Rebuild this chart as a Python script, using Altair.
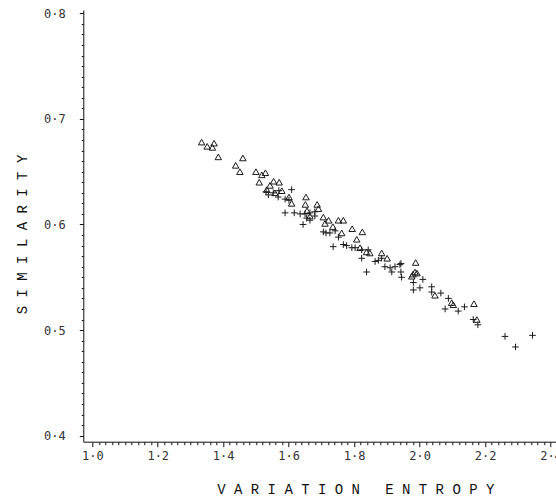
import altair as alt
import pandas as pd

# Series A (open triangles)
tri_x = [1.334, 1.351, 1.367, 1.372, 1.385, 1.460, 1.438, 1.451, 1.500, 1.518,
         1.529, 1.510, 1.554, 1.571, 1.543, 1.533, 1.579, 1.558, 1.601, 1.609,
         1.653, 1.651, 1.656, 1.687, 1.691, 1.665, 1.706, 1.722, 1.711, 1.752,
         1.767, 1.735, 1.762, 1.794, 1.825, 1.808, 1.818, 1.838, 1.848, 1.884,
         1.901, 1.988, 1.986, 1.992, 1.980, 1.976, 2.047, 2.098, 2.103, 2.166,
         2.175]
tri_y = [0.678, 0.674, 0.673, 0.677, 0.664, 0.663, 0.656, 0.650, 0.650, 0.647,
         0.649, 0.640, 0.641, 0.640, 0.637, 0.633, 0.632, 0.630, 0.626, 0.620,
         0.626, 0.619, 0.613, 0.619, 0.615, 0.608, 0.607, 0.604, 0.601, 0.604,
         0.604, 0.598, 0.592, 0.596, 0.593, 0.586, 0.578, 0.574, 0.573, 0.573,
         0.568, 0.564, 0.555, 0.554, 0.553, 0.551, 0.533, 0.526, 0.524, 0.525,
         0.510]

# Series B (plus signs)
plus_x = [1.531, 1.538, 1.553, 1.570, 1.609, 1.568, 1.589, 1.601, 1.589, 1.617,
          1.635, 1.650, 1.655, 1.665, 1.680, 1.680, 1.644, 1.665, 1.706, 1.714,
          1.726, 1.742, 1.752, 1.736, 1.767, 1.777, 1.793, 1.803, 1.823, 1.843,
          1.823, 1.864, 1.874, 1.884, 1.894, 1.910, 1.915, 1.925, 1.940, 1.838,
          1.945, 1.943, 1.943, 1.981, 1.981, 2.001, 2.010, 2.037, 2.037, 2.065,
          2.088, 2.078, 2.118, 2.137, 2.164, 2.178, 2.261, 2.293, 2.345]
plus_y = [0.631, 0.628, 0.630, 0.632, 0.633, 0.626, 0.624, 0.623, 0.611, 0.611,
          0.610, 0.610, 0.606, 0.611, 0.612, 0.608, 0.600, 0.604, 0.593, 0.592,
          0.592, 0.594, 0.588, 0.579, 0.581, 0.580, 0.578, 0.578, 0.576, 0.576,
          0.568, 0.565, 0.566, 0.568, 0.560, 0.559, 0.555, 0.560, 0.562, 0.555,
          0.550, 0.563, 0.555, 0.545, 0.538, 0.540, 0.548, 0.541, 0.536, 0.535,
          0.530, 0.520, 0.518, 0.522, 0.510, 0.505, 0.494, 0.484, 0.495]

x_ticks = [round(1.0 + 0.02 * i, 2) for i in range(71)]
y_ticks = [round(0.40 + 0.01 * i, 2) for i in range(41)]

df = pd.concat([
    pd.DataFrame({"x": tri_x, "y": tri_y, "s": "A"}),
    pd.DataFrame({"x": plus_x, "y": plus_y, "s": "B"}),
])

x_major = "abs(datum.value*5 - round(datum.value*5)) < 0.001"
y_major = "abs(datum.value*10 - round(datum.value*10)) < 0.001"

xscale = alt.Scale(domain=[0.9725, 2.4168], nice=False, zero=False)
yscale = alt.Scale(domain=[0.3943, 0.8031], nice=False, zero=False)

NB = "\u00a0"
xaxis = alt.Axis(
    values=x_ticks,
    labelExpr=f"{x_major} ? replace(format(datum.value, '.1f'), '.', '·') : ''",
    tickSize={"condition": {"test": x_major, "value": 5}, "value": 3},
    labelOverlap=False, labelFlush=False, labelBound=False, grid=False,
    labelFont="DejaVu Sans Mono", labelFontSize=12, labelColor="#333",
    labelPadding=4,
    domainColor="#111", tickColor="#111",
    title=NB.join("VARIATION") + NB * 3 + NB.join("ENTROPY"),
    titleFont="Liberation Mono", titleFontSize=14, titleFontWeight="normal",
    titleColor="#111", titleX=272, titleY=48, titleAlign="center",
    titleBaseline="middle", titleAnchor="start",
)
yaxis = alt.Axis(
    values=y_ticks,
    labelExpr=f"{y_major} ? replace(format(datum.value, '.1f'), '.', '·') : ''",
    tickSize={"condition": {"test": y_major, "value": 4}, "value": 2},
    labelOverlap=False, labelFlush=False, labelBound=False, grid=False,
    labelFont="DejaVu Sans Mono", labelFontSize=12, labelColor="#333",
    labelPadding=14,
    domainColor="#111", tickColor="#111",
    title=NB.join("SIMILARITY"),
    titleFont="Liberation Mono", titleFontSize=14, titleFontWeight="normal",
    titleColor="#111", titleX=-61, titleY=224, titleAlign="center",
    titleBaseline="middle", titleAngle=270, titleAnchor="start",
)

base = alt.Chart(df).encode(
    x=alt.X("x:Q", scale=xscale, axis=xaxis),
    y=alt.Y("y:Q", scale=yscale, axis=yaxis),
)

tri = base.transform_filter(alt.datum.s == "A").mark_point(
    shape="triangle-up", filled=False, size=42, strokeWidth=1, color="#1a1a1a", opacity=1
)

plus = base.transform_filter(alt.datum.s == "B").mark_point(
    shape="M-1,0H1M0,-1V1", filled=False, size=44, strokeWidth=1, color="#1a1a1a", opacity=1
)

chart = alt.layer(tri, plus).properties(
    width=472.7, height=431.7,
    autosize=alt.AutoSizeParams(type="none"),
    padding={"left": 83.3, "top": 10, "right": 0, "bottom": 61.3},
    background="white",
).configure_view(stroke=None).configure_axis(labelOverlap=False)

chart.save("out.html", embed_options={"renderer": "svg", "actions": False})
